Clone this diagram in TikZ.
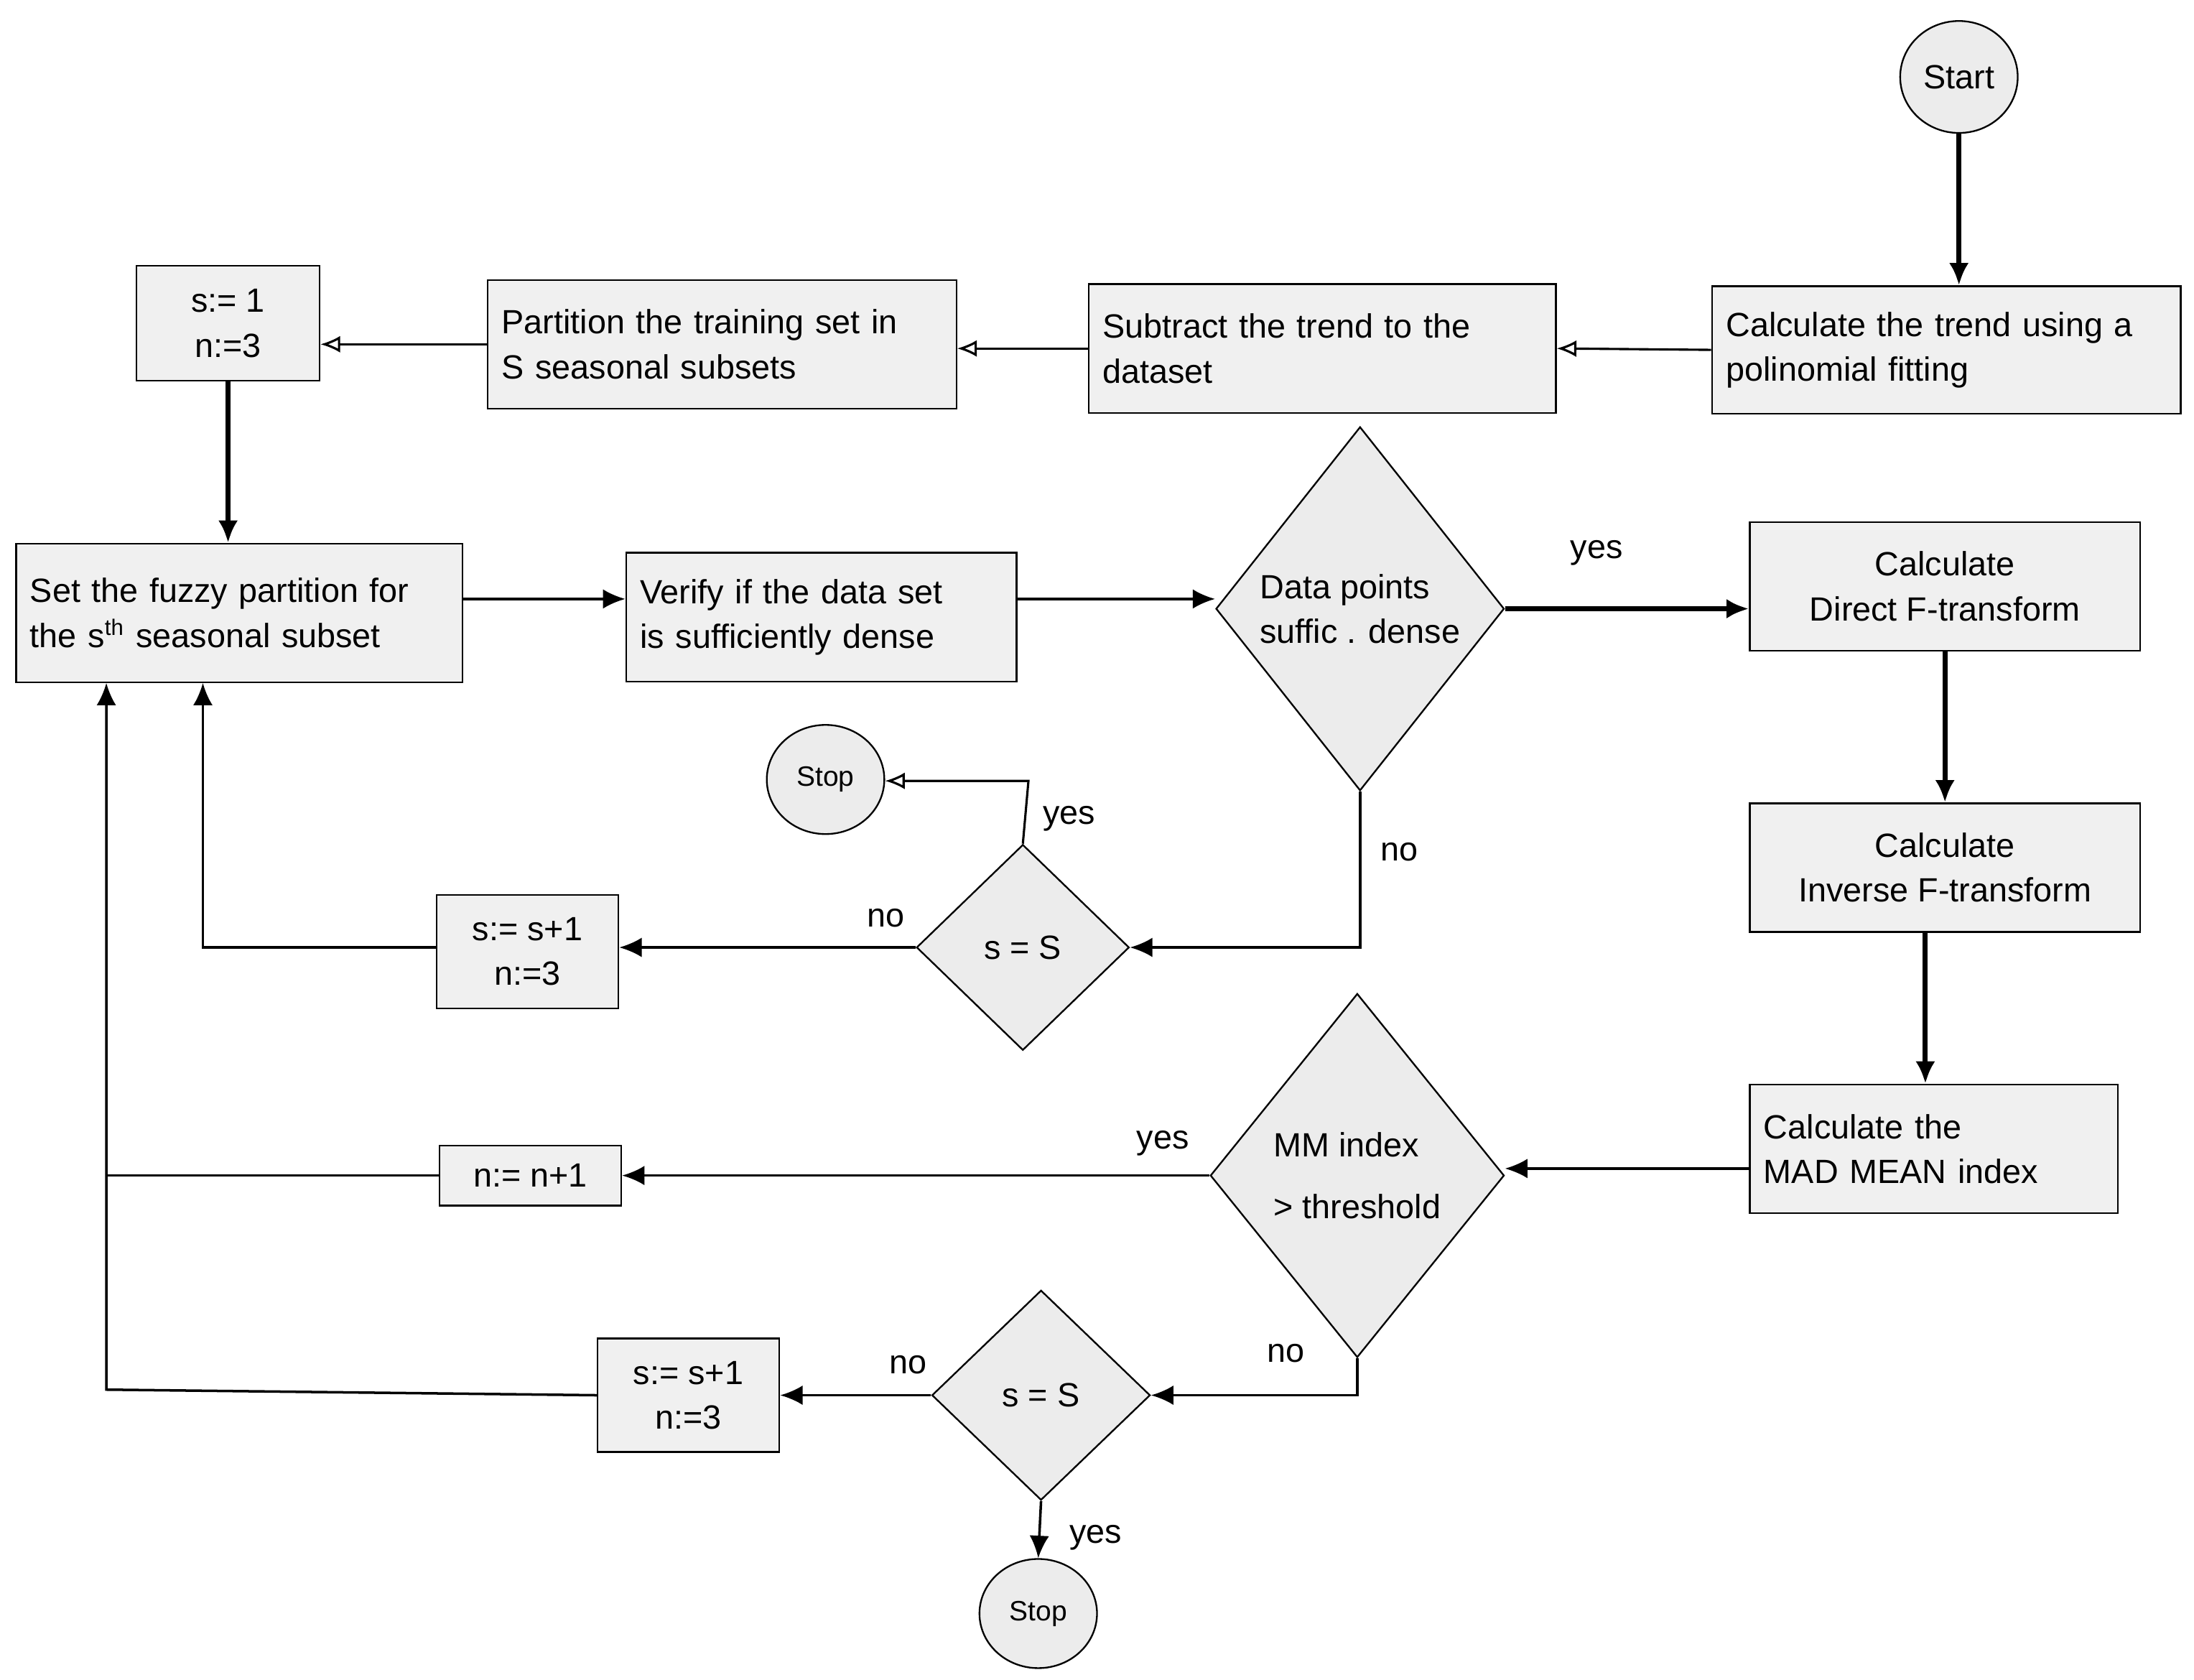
\documentclass[tikz,border=0pt]{standalone}
\usepackage{fontspec}
\setmainfont{Liberation Sans}
\usetikzlibrary{shapes.geometric,arrows.meta}
\begin{document}
\begin{tikzpicture}[x=0.5pt,y=-0.5pt,
  font=\fontsize{12}{16}\selectfont,
  every path/.style={line width=0.8pt},
  box/.style={draw,line width=0.6pt,fill=gray!12,inner sep=4pt,align=left,anchor=center},
  dia/.style={draw,line width=0.6pt,fill=gray!15,diamond,inner sep=0pt,align=left},
  circ/.style={draw,line width=0.6pt,fill=gray!15,ellipse,inner sep=0pt},
  thk/.style={line width=1.8pt,-{Latex[length=8pt,width=7pt]}},
  opn/.style={line width=0.8pt,-{Latex[open,length=7pt,width=6pt]}},
  sol/.style={line width=0.9pt,-{Latex[length=8pt,width=7pt]}},
  lbl/.style={inner sep=1pt}]
\useasboundingbox (0,0) rectangle (1568,1200);
\node[circ,minimum width=84*0.5pt,minimum height=80*0.5pt] (start) at (1400,55) {Start};
\node[box,minimum width=335*0.5pt,minimum height=91*0.5pt,text width=315*0.5pt] (trend) at (1391,250) {Calculate the trend using a\\polinomial fitting};
\node[box,minimum width=334*0.5pt,minimum height=92*0.5pt,text width=314*0.5pt] (sub) at (945,249) {Subtract the trend to the\\dataset};
\node[box,minimum width=335*0.5pt,minimum height=92*0.5pt,text width=315*0.5pt] (part) at (516,246) {Partition the training set in\\S seasonal subsets};
\node[box,minimum width=131*0.5pt,minimum height=82*0.5pt,align=center] (s1) at (163,231) {s:= 1\\n:=3};
\node[box,minimum width=319*0.5pt,minimum height=99*0.5pt,text width=299*0.5pt] (fuzzy) at (171,438) {Set the fuzzy partition for\\the s\textsuperscript{th} seasonal subset};
\node[box,minimum width=279*0.5pt,minimum height=92*0.5pt,text width=259*0.5pt] (ver) at (587,441) {Verify if the data set\\is sufficiently dense};
\node[dia,minimum width=206*0.5pt,minimum height=260*0.5pt] (d1) at (972,435) {Data points\\suffic . dense};
\node[box,minimum width=279*0.5pt,minimum height=92*0.5pt,align=center] (dir) at (1390,419) {Calculate\\Direct F-transform};
\node[box,minimum width=279*0.5pt,minimum height=92*0.5pt,align=center] (inv) at (1390,620) {Calculate\\Inverse F-transform};
\node[box,minimum width=263*0.5pt,minimum height=92*0.5pt,text width=243*0.5pt] (mad) at (1382,821) {Calculate the\\MAD MEAN index};
\node[dia,minimum width=210*0.5pt,minimum height=260*0.5pt] (d2) at (970,840) {MM index\\[6pt]> threshold};
\node[dia,minimum width=152*0.5pt,minimum height=147*0.5pt] (ss1) at (731,677) {s = S};
\node[box,minimum width=130*0.5pt,minimum height=81*0.5pt,align=center] (b1) at (377,680) {s:= s+1\\n:=3};
\node[circ,minimum width=84*0.5pt,minimum height=78*0.5pt,font=\fontsize{10}{12}\selectfont] (stop1) at (590,557) {Stop};
\node[box,minimum width=130*0.5pt,minimum height=43*0.5pt,align=center] (nn) at (379,840) {n:= n+1};
\node[dia,minimum width=156*0.5pt,minimum height=150*0.5pt] (ss2) at (744,997) {s = S};
\node[box,minimum width=130*0.5pt,minimum height=81*0.5pt,align=center] (b2) at (492,997) {s:= s+1\\n:=3};
\node[circ,minimum width=84*0.5pt,minimum height=78*0.5pt,font=\fontsize{10}{12}\selectfont] (stop2) at (742,1153) {Stop};
\coordinate (lx) at (76,488);
% labels
\node[lbl] at (1141,395) {yes};
\node[lbl] at (1000,609) {no};
\node[lbl] at (633,656) {no};
\node[lbl] at (764,585) {yes};
\node[lbl] at (831,817) {yes};
\node[lbl] at (919,967) {no};
\node[lbl] at (649,975) {no};
\node[lbl] at (783,1099) {yes};
% arrows
\draw[thk] (start.south) -- (start.south|-trend.north);
\draw[opn] (trend.west) -- (sub.east);
\draw[opn] (sub.west) -- (part.east|-sub.west);
\draw[opn] (part.west) -- (s1.east|-part.west);
\draw[thk] (s1.south) -- (s1.south|-fuzzy.north);
\draw[sol] (fuzzy.east|-0,428) -- (ver.west|-0,428);
\draw[sol] (ver.east|-0,428) -- (d1.west|-0,428);
\draw[thk] (d1.east) -- (dir.west|-d1.east);
\draw[thk] (dir) -- (inv);
\draw[thk] (inv.south-|1376,0) -- (mad.north-|1376,0);
\draw[sol] (mad.west|-0,835) -- (d2.east|-0,835);
\draw[sol] (d1.south) -- (972,677) -- (ss1.east);
\draw[sol] (ss1.west) -- (b1.east|-ss1.west);
\draw[sol] (b1.west|-ss1.west) -- (145,677) -- (145,488);
\draw[opn] (ss1.north) -- (735,558) -- (stop1.east|-0,558);
\draw[sol] (d2.west) -- (nn.east|-d2.west);
\draw (nn.west|-d2.west) -- (76,840);
\draw[sol] (d2.south) -- (970,997) -- (ss2.east);
\draw[sol] (ss2.west) -- (b2.east);
\draw[sol] (b2.west) -- (76,993) -- (lx);
\draw[sol] (ss2.south) -- (stop2.north);
\end{tikzpicture}
\end{document}
